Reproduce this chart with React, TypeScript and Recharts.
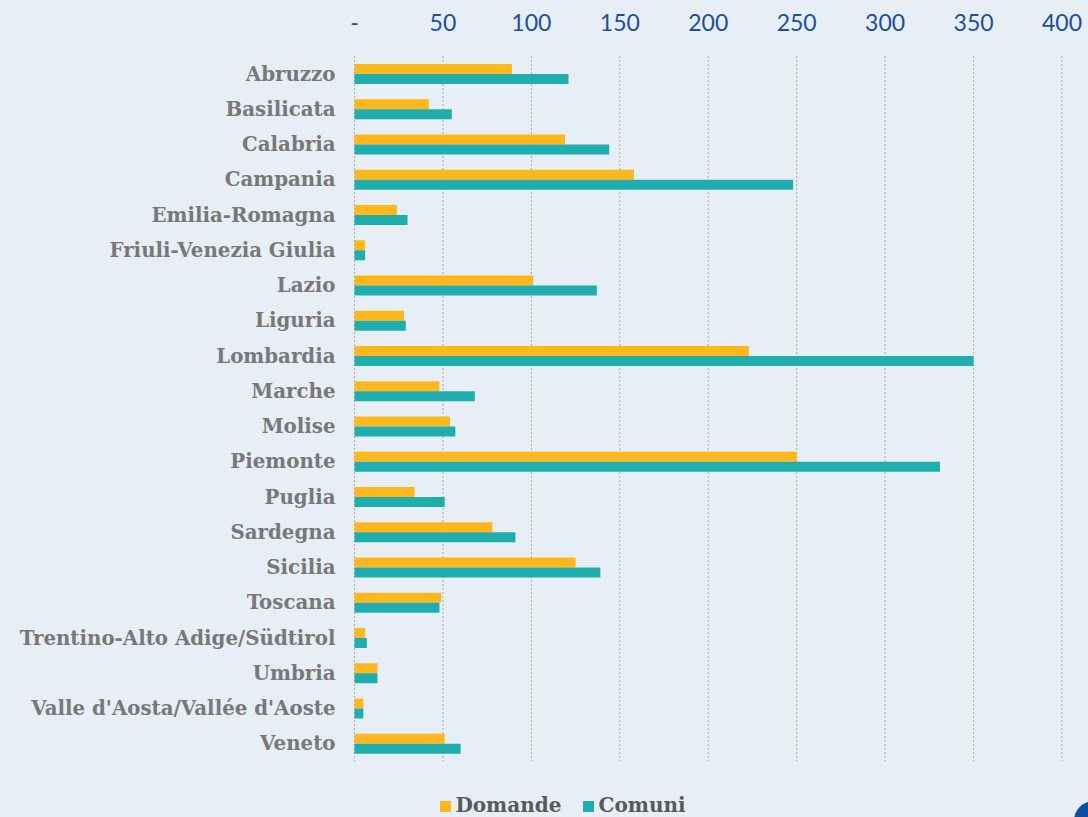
import React from 'react';
import { BarChart, Bar, XAxis, YAxis, CartesianGrid, Legend } from 'recharts';

const regions = [
  'Abruzzo',
  'Basilicata',
  'Calabria',
  'Campania',
  'Emilia-Romagna',
  'Friuli-Venezia Giulia',
  'Lazio',
  'Liguria',
  'Lombardia',
  'Marche',
  'Molise',
  'Piemonte',
  'Puglia',
  'Sardegna',
  'Sicilia',
  'Toscana',
  'Trentino-Alto Adige/Südtirol',
  'Umbria',
  "Valle d'Aosta/Vallée d'Aoste",
  'Veneto',
];

const domande = [89, 42, 119, 158, 24, 6, 101, 28, 223, 48, 54, 250, 34, 78, 125, 49, 6, 13, 5, 51];
const comuni = [121, 55, 144, 248, 30, 6, 137, 29, 350, 68, 57, 331, 51, 91, 139, 48, 7, 13, 5, 60];

const xTicks = [0, 50, 100, 150, 200, 250, 300, 350, 400];
const seriesOrder = ['Domande', 'Comuni'];

const ORANGE = '#FFB81C';
const TEAL = '#20ADAD';
const BG = '#E7EEF6';

export default function App() {
  const data = regions.map((name, i) => ({
    name,
    Domande: domande[i],
    Comuni: comuni[i],
  }));

  return (
    <div style={{ position: 'absolute', left: 0, top: 0, width: 1088, height: 817, background: BG, overflow: 'hidden' }}>
      <BarChart
        width={1088}
        height={817}
        data={data}
        layout="vertical"
        barSize={10}
        barGap={0}
        margin={{ top: 0, right: 26, left: 0, bottom: 32 }}
      >
        <CartesianGrid horizontal={false} stroke="#A9A9A9" strokeDasharray="2 2" />
        <XAxis
          type="number"
          orientation="top"
          domain={[0, 400]}
          ticks={xTicks}
          height={56}
          axisLine={false}
          tickLine={false}
          tickMargin={19}
          tickFormatter={(v) => (v === 0 ? '-' : String(v))}
          tick={{ fill: '#1C4F9F', fontSize: 23, fontFamily: 'Lato' }}
        />
        <YAxis
          type="category"
          dataKey="name"
          width={354.5}
          axisLine={false}
          tickLine={false}
          tickMargin={13}
          interval={0}
          tick={{ fill: '#787878', fontSize: 19.8, fontWeight: 700, fontFamily: 'DejaVu Serif' }}
        />
        <Legend
          verticalAlign="bottom"
          iconType="square"
          iconSize={11}
          itemSorter={(item: any) => seriesOrder.indexOf(item.value)}
          wrapperStyle={{ fontFamily: 'DejaVu Serif', fontWeight: 700, fontSize: 20, bottom: 0, left: 37 }}
          formatter={(value) => (
            <span style={{ color: '#595959', marginRight: value === 'Domande' ? 12 : 0 }}>{value}</span>
          )}
        />
        <Bar dataKey="Domande" fill={ORANGE} isAnimationActive={false} />
        <Bar dataKey="Comuni" fill={TEAL} isAnimationActive={false} />
      </BarChart>
      <div
        style={{
          position: 'absolute',
          left: 1074,
          top: 801,
          width: 40,
          height: 40,
          borderRadius: '50%',
          background: '#0B4EA2',
        }}
      />
    </div>
  );
}
